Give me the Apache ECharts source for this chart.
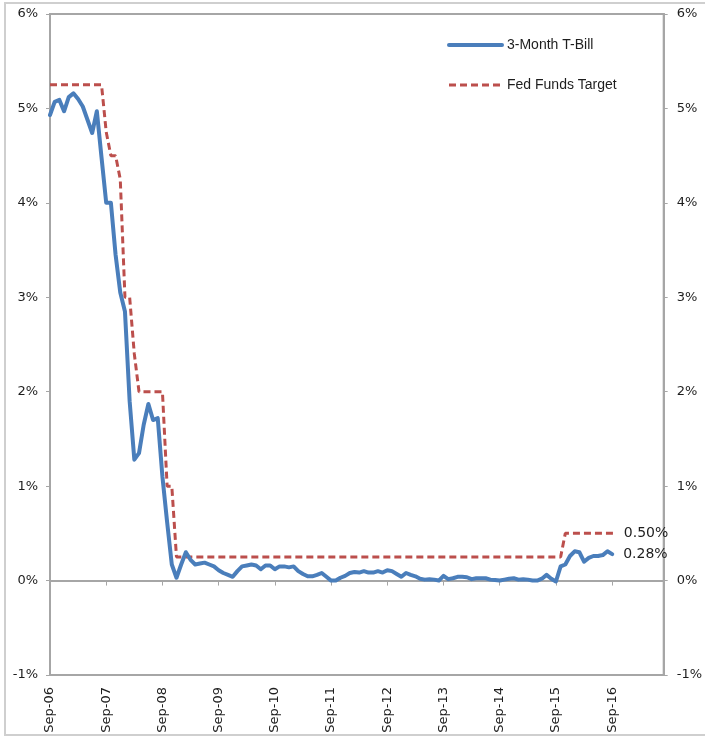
<!DOCTYPE html>
<html>
<head>
<meta charset="utf-8">
<title>3-Month T-Bill vs Fed Funds Target</title>
<script src="https://cdn.jsdelivr.net/npm/echarts@6/dist/echarts.min.js"></script>
<style>
  html, body { margin: 0; padding: 0; background: #ffffff; }
  #chart { width: 705px; height: 738px; }
</style>
</head>
<body>
<div id="chart"></div>
<script>
// Monthly axis: Sep-06 through Aug-17, one label per year (September)
const monthNames = ['Jan','Feb','Mar','Apr','May','Jun','Jul','Aug','Sep','Oct','Nov','Dec'];
const startYear = 2006, startMonth = 8, monthCount = 132;
const yearTickLabels = ['Sep-06','Sep-07','Sep-08','Sep-09','Sep-10','Sep-11','Sep-12','Sep-13','Sep-14','Sep-15','Sep-16'];

const months = [];
for (let i = 0; i < monthCount; i++) {
  const m = (startMonth + i) % 12;
  const y = startYear + Math.floor((startMonth + i) / 12);
  months.push(monthNames[m] + '-' + String(y % 100).padStart(2, '0'));
}

// 3-Month T-Bill yield, % (monthly, Sep-06 .. Sep-16)
const tBill = [
  4.93, 5.07, 5.09, 4.97, 5.12, 5.16, 5.10, 5.02, 4.88, 4.74, 4.97, 4.48,
  4.00, 4.00, 3.45, 3.05, 2.85, 1.90, 1.28, 1.35, 1.65, 1.87, 1.70, 1.72,
  1.10, 0.62, 0.17, 0.03, 0.17, 0.30, 0.22, 0.17, 0.18, 0.19, 0.17, 0.15,
  0.11, 0.08, 0.06, 0.04, 0.10, 0.15, 0.16, 0.17, 0.16, 0.12, 0.16, 0.16,
  0.12, 0.15, 0.15, 0.14, 0.15, 0.10, 0.07, 0.045, 0.045, 0.06, 0.08, 0.04,
  0.00, 0.00, 0.03, 0.05, 0.08, 0.09, 0.085, 0.10, 0.085, 0.085, 0.10, 0.085,
  0.11, 0.10, 0.07, 0.04, 0.08, 0.06, 0.045, 0.02, 0.01, 0.015, 0.01, 0.00,
  0.05, 0.015, 0.025, 0.04, 0.04, 0.035, 0.015, 0.025, 0.025, 0.025, 0.01, 0.005,
  0.00, 0.01, 0.02, 0.025, 0.01, 0.015, 0.01, 0.00, 0.00, 0.02, 0.06, 0.02,
  -0.01, 0.15, 0.17, 0.26, 0.31, 0.30, 0.20, 0.24, 0.26, 0.26, 0.27, 0.31,
  0.28
];

// Fed Funds target rate (upper bound), % (monthly, Sep-06 .. Oct-16)
const fedTarget = [
  5.25, 5.25, 5.25, 5.25, 5.25, 5.25, 5.25, 5.25, 5.25, 5.25, 5.25, 5.25,
  4.75, 4.50, 4.50, 4.25, 3.00, 3.00, 2.40, 2.00, 2.00, 2.00, 2.00, 2.00,
  2.00, 1.00, 1.00, 0.25, 0.25, 0.25, 0.25, 0.25, 0.25, 0.25, 0.25, 0.25,
  0.25, 0.25, 0.25, 0.25, 0.25, 0.25, 0.25, 0.25, 0.25, 0.25, 0.25, 0.25,
  0.25, 0.25, 0.25, 0.25, 0.25, 0.25, 0.25, 0.25, 0.25, 0.25, 0.25, 0.25,
  0.25, 0.25, 0.25, 0.25, 0.25, 0.25, 0.25, 0.25, 0.25, 0.25, 0.25, 0.25,
  0.25, 0.25, 0.25, 0.25, 0.25, 0.25, 0.25, 0.25, 0.25, 0.25, 0.25, 0.25,
  0.25, 0.25, 0.25, 0.25, 0.25, 0.25, 0.25, 0.25, 0.25, 0.25, 0.25, 0.25,
  0.25, 0.25, 0.25, 0.25, 0.25, 0.25, 0.25, 0.25, 0.25, 0.25, 0.25, 0.25,
  0.25, 0.25, 0.50, 0.50, 0.50, 0.50, 0.50, 0.50, 0.50, 0.50, 0.50, 0.50,
  0.50, 0.50
];

const yTicks = [-1, 0, 1, 2, 3, 4, 5, 6];

const axisGray = '#a6a6a6';
const textColor = '#1e1e1e';
const tickFont = 'DejaVu Sans';
const isYearTick = (i) => yearTickLabels.indexOf(months[i]) !== -1;

const chart = echarts.init(document.getElementById('chart'), null, { renderer: 'canvas' });

const yAxisBase = {
  type: 'value',
  min: yTicks[0],
  max: yTicks[yTicks.length - 1],
  interval: 1,
  axisLine: { show: true, lineStyle: { color: axisGray, width: 2 } },
  axisTick: { show: true, length: 4, lineStyle: { color: axisGray, width: 1 } },
  splitLine: { show: false },
  axisLabel: {
    margin: 12,
    color: textColor,
    fontFamily: tickFont,
    fontSize: 13,
    formatter: (v) => v + '%'
  }
};

chart.setOption({
  animation: false,
  backgroundColor: '#ffffff',
  graphic: [{
    type: 'rect',
    silent: true,
    shape: { x: 5, y: 3, width: 730, height: 732 },
    style: { fill: 'none', stroke: '#cfcfcf', lineWidth: 2 }
  }],
  grid: {
    left: 50, top: 14, width: 617, height: 661,
    show: true, borderColor: axisGray, borderWidth: 2, backgroundColor: 'transparent'
  },
  legend: {
    orient: 'vertical',
    left: 447, top: 38, padding: 0,
    itemWidth: 53, itemHeight: 14, itemGap: 26, itemTextGap: 7,
    itemStyle: { opacity: 0 },
    lineStyle: { width: 'inherit' },
    textStyle: { fontFamily: 'Liberation Sans', fontSize: 14, color: textColor },
    data: ['3-Month T-Bill', 'Fed Funds Target']
  },
  xAxis: [
    {
      // year labels along the bottom of the plot
      type: 'category', data: months, boundaryGap: false, position: 'bottom',
      axisLine: { show: false, onZero: false },
      axisTick: { show: false },
      splitLine: { show: false },
      axisLabel: {
        rotate: 90, margin: 12, color: textColor, fontFamily: tickFont, fontSize: 13,
        interval: (i) => isYearTick(i)
      }
    },
    {
      // zero line with yearly tick marks
      type: 'category', data: months, boundaryGap: false, position: 'bottom',
      axisLine: { show: true, onZero: true, lineStyle: { color: axisGray, width: 2 } },
      axisTick: { show: true, length: 5, interval: (i) => isYearTick(i), lineStyle: { color: axisGray, width: 1 } },
      axisLabel: { show: false },
      splitLine: { show: false }
    }
  ],
  yAxis: [
    Object.assign({}, yAxisBase, { position: 'left' }),
    Object.assign({}, yAxisBase, { position: 'right', axisLabel: Object.assign({}, yAxisBase.axisLabel, { margin: 13 }) })
  ],
  series: [
    {
      name: '3-Month T-Bill', type: 'line', data: tBill,
      xAxisIndex: 0, yAxisIndex: 0, z: 4,
      symbol: 'none', smooth: false,
      lineStyle: { color: '#4a7ebb', width: 4, join: 'round', cap: 'round' },
      itemStyle: { color: '#4a7ebb' },
      endLabel: {
        show: true, distance: 11, color: textColor, fontFamily: tickFont, fontSize: 14,
        formatter: (p) => p.value.toFixed(2) + '%'
      }
    },
    {
      name: 'Fed Funds Target', type: 'line', data: fedTarget,
      xAxisIndex: 0, yAxisIndex: 0, z: 3,
      symbol: 'none', smooth: false,
      lineStyle: { color: '#bc4f4c', width: 3, type: [7, 4] },
      itemStyle: { color: '#bc4f4c' },
      endLabel: {
        show: true, distance: 7, color: textColor, fontFamily: tickFont, fontSize: 14,
        formatter: (p) => p.value.toFixed(2) + '%'
      }
    }
  ]
});
</script>
</body>
</html>
